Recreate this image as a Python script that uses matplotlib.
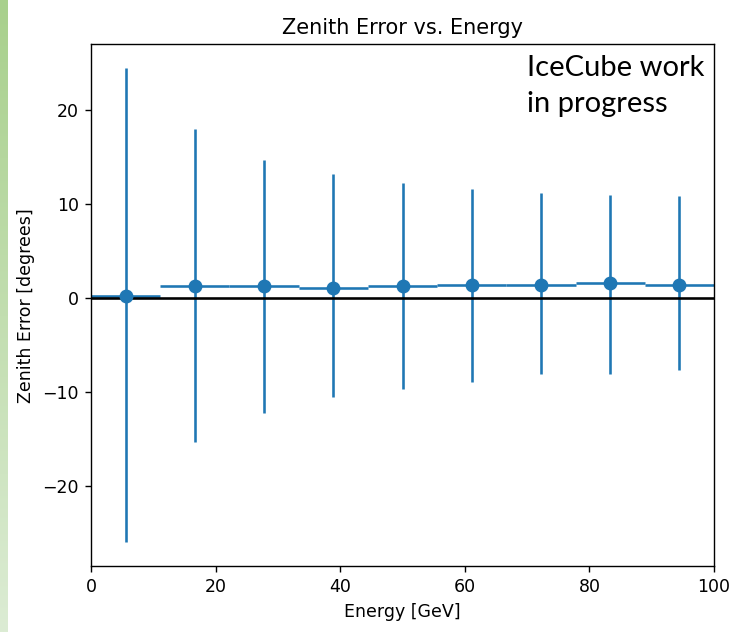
import matplotlib
matplotlib.use('Agg')
import matplotlib.pyplot as plt
import numpy as np

# energy bin centres [GeV] and half width
energy = [5.56, 16.67, 27.78, 38.89, 50.0, 61.11, 72.22, 83.33, 94.44]
bin_half = 5.555
# mean zenith error per bin [deg]
zen_err = [0.2, 1.2, 1.2, 1.0, 1.2, 1.35, 1.35, 1.6, 1.35]
# upper / lower ends of the spread [deg]
err_top = [24.4, 17.9, 14.6, 13.1, 12.15, 11.55, 11.1, 10.95, 10.8]
err_bot = [-26.0, -15.3, -12.3, -10.6, -9.75, -9.0, -8.1, -8.1, -7.65]

yerr_lo = np.array(zen_err) - np.array(err_bot)
yerr_hi = np.array(err_top) - np.array(zen_err)

fig = plt.figure(figsize=(5.84, 5.056), dpi=125)

# green slide strip on the left edge
strip = fig.add_axes([0, 0, 8/730, 1])
grad = np.linspace(0, 1, 256).reshape(-1, 1)
cmap = matplotlib.colors.LinearSegmentedColormap.from_list('g', ['#a8d08c', '#dcecd4'])
strip.imshow(grad, aspect='auto', cmap=cmap)
strip.axis('off')

ax = fig.add_axes([91/730, 1 - 566/632, (714-91)/730, (566-44.4)/632])
ax.errorbar(energy, zen_err, xerr=bin_half, yerr=[yerr_lo, yerr_hi],
            fmt='o', color='C0', markersize=7)
ax.axhline(0, color='k', lw=1.5)
ax.set_xlim(0, 100)
ax.set_xlabel('Energy [GeV]')
ax.set_ylabel('Zenith Error [degrees]')
ax.set_title('Zenith Error vs. Energy')

# slide overlay text (two lines)
fig.text(527/730, 1 - 76/632, 'IceCube work', fontsize=16.8,
         family=['Lato', 'DejaVu Sans'], ha='left', va='baseline')
fig.text(527/730, 1 - 112/632, 'in progress', fontsize=16.8,
         family=['Lato', 'DejaVu Sans'], ha='left', va='baseline')

fig.savefig('out.png', dpi=125)
